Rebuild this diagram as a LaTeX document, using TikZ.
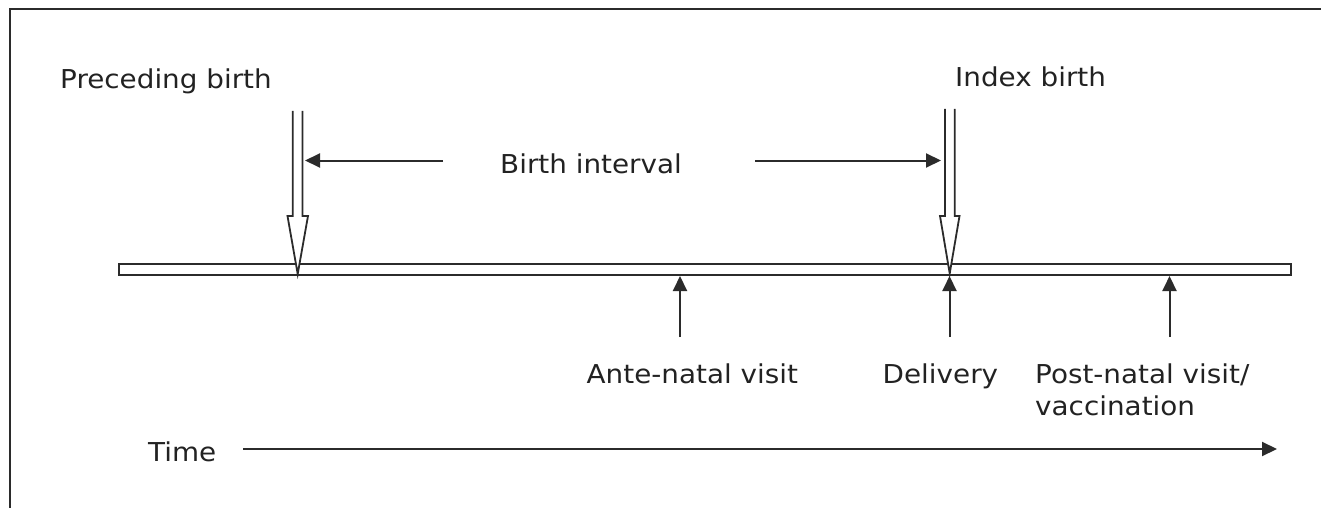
\documentclass[tikz,border=0pt]{standalone}
\usepackage{fontspec}
\setmainfont{DejaVu Sans}[FakeStretch=1.07]
\usetikzlibrary{arrows.meta}
\definecolor{ink}{HTML}{222222}
\definecolor{ln}{HTML}{2b2b2b}
\tikzset{
  lbl/.style={inner sep=0pt, anchor=base west, text=ink, font=\fontsize{26}{32}\selectfont},
  thinarrow/.style={draw=ln, line width=2pt, -{Triangle[length=15pt,width=14pt]}},
  hollow/.style={draw=ln, line width=1.8pt, fill=white, line join=miter},
}
\begin{document}
\begin{tikzpicture}[x=1pt,y=-1pt]
\useasboundingbox (0,0) rectangle (1321,508);
% frame (only top and left visible)
\draw[ln, line width=2pt] (10,508) -- (10,9) -- (1321,9);
% timeline bar
\node[draw=ln, line width=2pt, fill=white, minimum width=1172pt, minimum height=11pt, inner sep=0pt, anchor=north west] (bar) at (118,263) {};
% hollow arrows
\draw[hollow] (292.7,111) -- (292.7,216) -- (287.5,216) -- (297.7,274) -- (308,216) -- (302.5,216) -- (302.5,111);
\draw[hollow] (945,109) -- (945,216) -- (940,216) -- (949.7,273.5) -- (959.5,216) -- (954.7,216) -- (954.7,109);
% texts
\node[lbl] (prec) at (60,89) {Preceding birth};
\node[lbl] (index) at (955,87) {Index birth};
\node[lbl] (interval) at (500,173) {Birth interval};
\node[lbl] (ante) at (586.5,383) {Ante-natal visit};
\node[lbl] (deliv) at (882.5,383) {Delivery};
\node[lbl, align=left] (post) at (1035,415) {Post-natal visit/\\vaccination};
\node[lbl] (time) at (148,461) {Time};
% coordinates
\coordinate (bil) at (443,160.5);
\coordinate (bit) at (305,160.5);
\coordinate (bir) at (755,160.5);
\coordinate (birt) at (941,160.5);
\coordinate (a1) at (680,337);
\coordinate (a2) at (949.5,337);
\coordinate (a3) at (1169.5,337);
\coordinate (t0) at (243,449);
\coordinate (t1) at (1277,449);
% connectors
\draw[thinarrow] (bil) -- (bit);
\draw[thinarrow] (bir) -- (birt);
\draw[thinarrow] (a1) -- (a1 |- bar.south);
\draw[thinarrow] (a2) -- (a2 |- bar.south);
\draw[thinarrow] (a3) -- (a3 |- bar.south);
\draw[thinarrow] (t0) -- (t1);
\end{tikzpicture}
\end{document}
